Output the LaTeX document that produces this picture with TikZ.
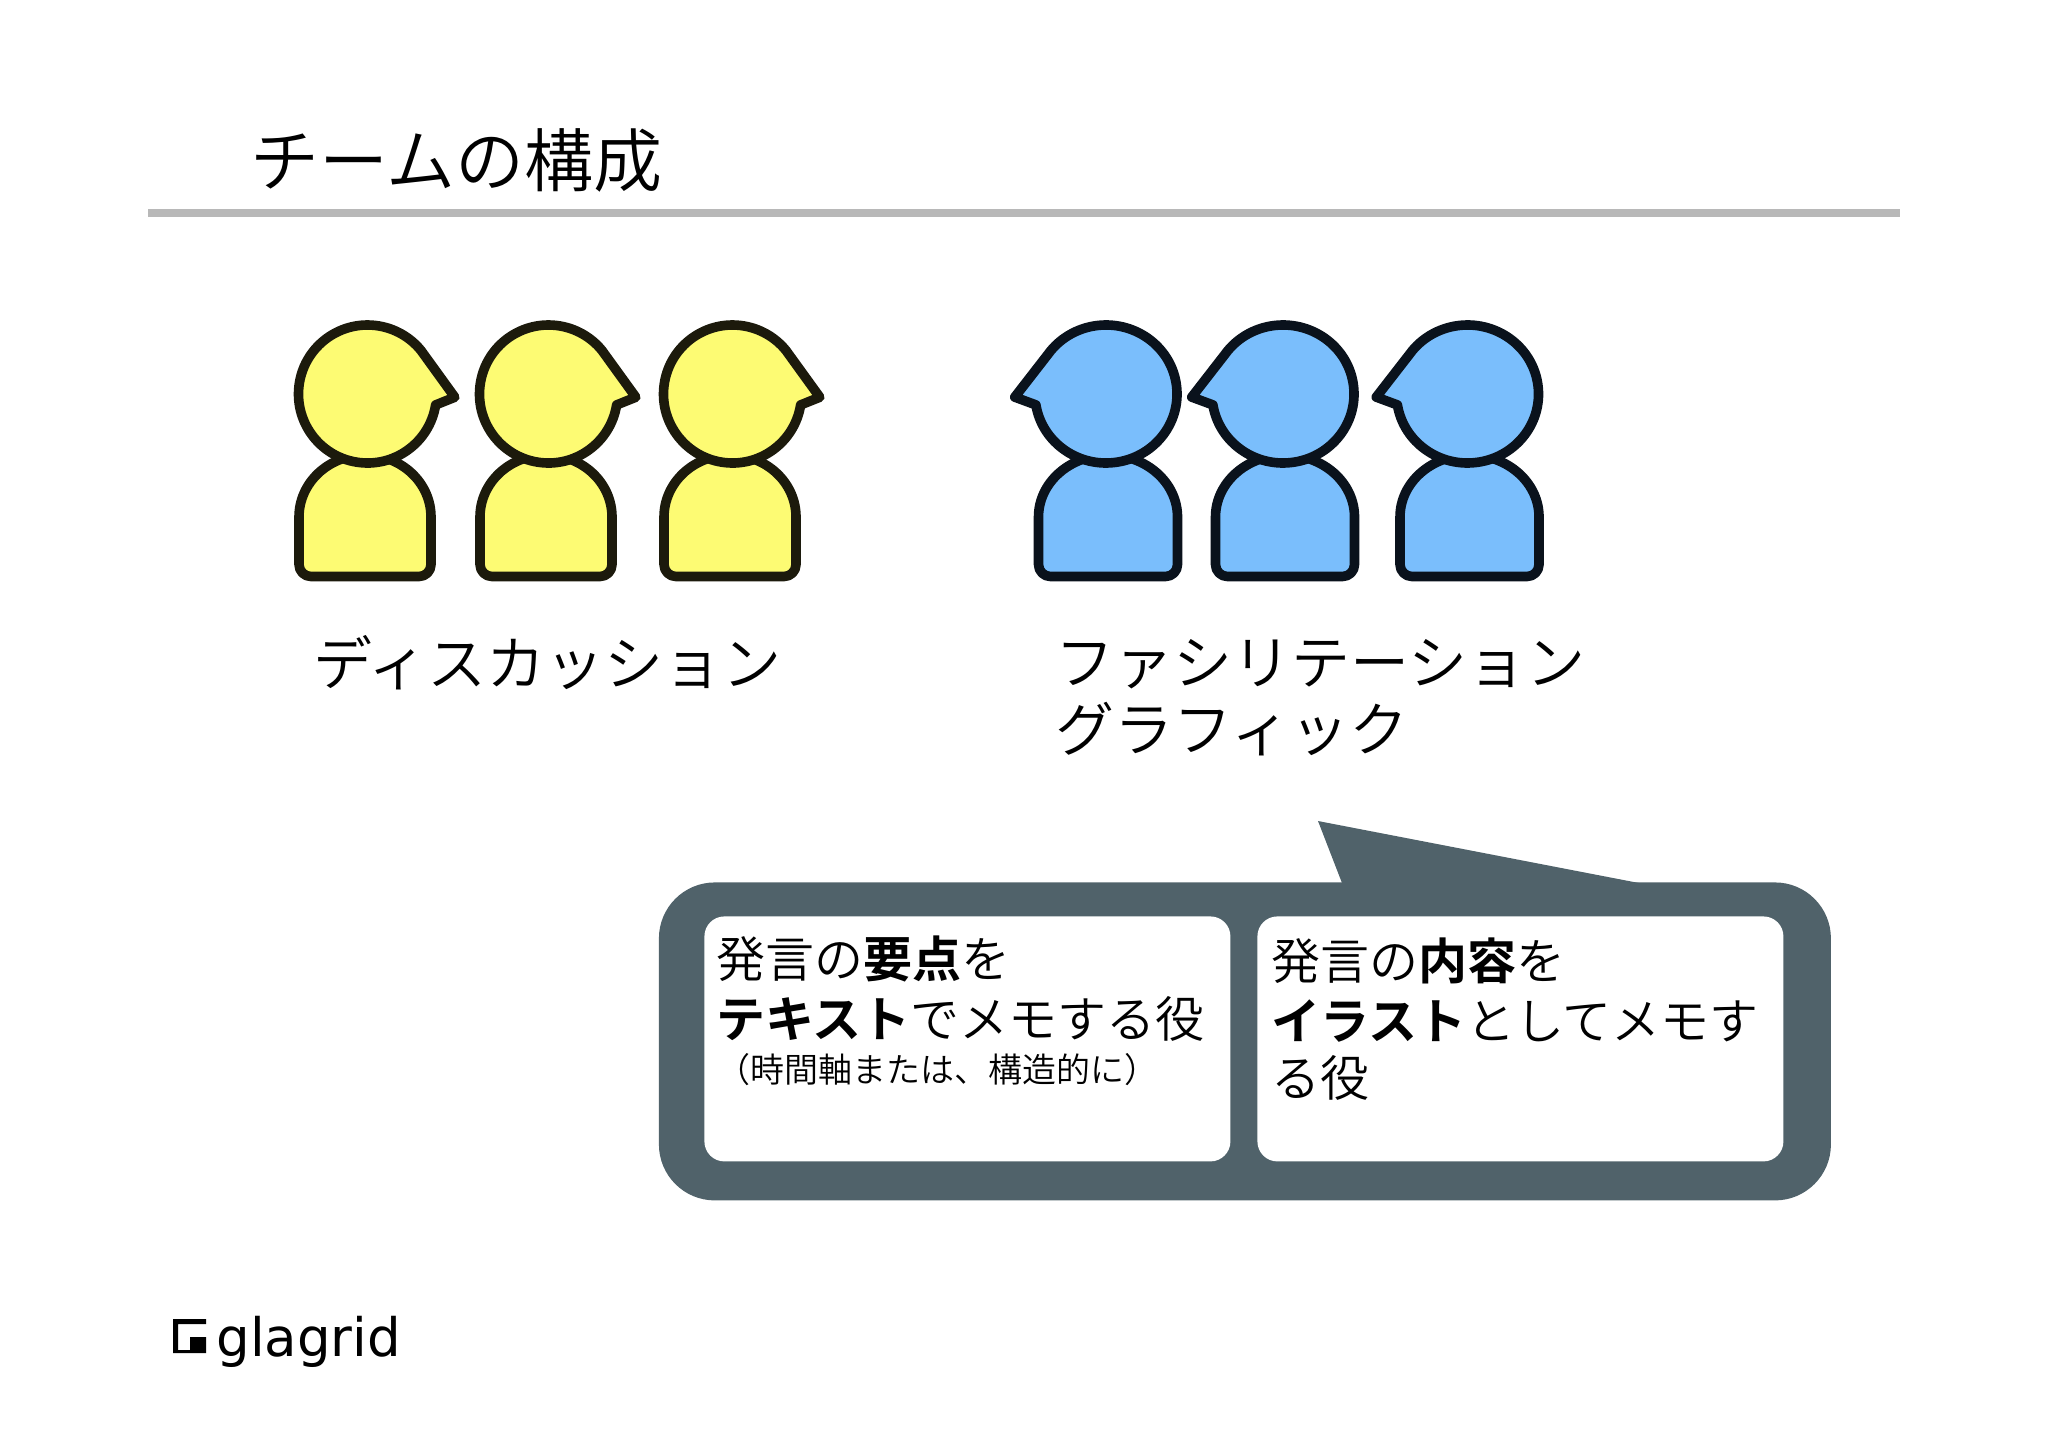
\documentclass[tikz,border=0pt]{standalone}
\usepackage{fontspec}
\setmainfont{Noto Sans CJK JP DemiLight}[BoldFont=Noto Sans CJK JP Bold]
\newfontfamily\logofont{DejaVu Sans}
\usepackage{xcolor}
\definecolor{headYellow}{HTML}{FDFB73}
\definecolor{lineYellow}{HTML}{1C1A0C}
\definecolor{headBlue}{HTML}{7ABEFC}
\definecolor{lineBlue}{HTML}{0A121C}
\definecolor{bubbleGray}{HTML}{50626A}
\definecolor{ruleGray}{HTML}{B8B8B8}
\tikzset{
	figure/.style={line width=4.8pt, line join=round},
	titletext/.style={anchor=west, inner sep=0pt, font=\fontsize{34.5}{40}\selectfont},
	grouptext/.style={anchor=north west, inner sep=0pt, align=left, font=\fontsize{29.5}{33.5}\selectfont},
	memotext/.style={anchor=north west, inner sep=0pt, align=left, font=\fontsize{24.5}{29.25}\selectfont},
	panel/.style={anchor=north west, fill=white, rounded corners=10pt, inner sep=0pt, minimum width=263pt, minimum height=122.5pt},
}
\newcommand{\personbody}[2]{
	\filldraw (#1-#2,517) arc[start angle=180, end angle=360, x radius=#2, y radius=62]
		-- (#1+#2,564.5) arc[start angle=0, end angle=90, radius=12]
		-- (#1-#2+12,576.5) arc[start angle=90, end angle=180, radius=12] -- cycle;
}

\begin{document}
\begin{tikzpicture}[x=0.5pt, y=0.5pt, yscale=-1]
	\useasboundingbox (0,0) rectangle (2048,1447);

	\node[titletext] (title) at (250,160) {チームの構成};
	\fill[ruleGray] (148,209) rectangle (1900,217);

	\begin{scope}[figure, draw=lineYellow, fill=headYellow]
		\foreach \x in {365,546,730} {
			\personbody{\x}{66}
			\filldraw (\x+2.5,394) ++(9.1:69) arc[start angle=9.1, end angle=320.6, radius=69]
				-- ++(34,47) -- cycle;
		}
	\end{scope}

	\begin{scope}[figure, draw=lineBlue, fill=headBlue]
		\foreach \x in {1108,1285,1469.5} {
			\personbody{\x}{69.5}
			\filldraw (\x-72.1,404.9) arc[start angle=170.9, end angle=-140.6, x radius=71, y radius=69]
				-- ++(-36.4,46.9) -- cycle;
		}
	\end{scope}

	\node[grouptext] (discussion) at (313,635) {ディスカッション};
	\node[grouptext] (graphic) at (1055,639) {ファシリテーション\\グラフィック};

	\node[anchor=north west, fill=bubbleGray, rounded corners=28pt, inner sep=0pt, minimum width=586pt, minimum height=159pt] (bubble) at (658.5,882) {};
	\fill[bubbleGray] (1342,883) -- (1318,821) -- (1639,883) -- cycle;

	\node[panel] (pointPanel) at (704,916) {};
	\node[panel] (contentPanel) at (1257,916) {};

	\node[memotext] (pointText) at (716,935) {発言の\textbf{要点}を\\[1pt]\textbf{テキスト}でメモする役\\[-7pt]{\fontsize{17}{22}\selectfont （時間軸または、構造的に）}};
	\node[memotext] (contentText) at (1271,937) {発言の\textbf{内容}を\\[1pt]\textbf{イラスト}としてメモす\\[-1pt]る役};

	\fill[black] (173,1319) -- (206,1319) -- (206,1324) -- (178,1324) -- (178,1350) -- (190,1350)
		-- (190,1337) -- (206,1337) -- (206,1353) -- (173,1353) -- cycle;
	\node[anchor=base west, inner sep=0pt, font=\logofont\fontsize{26.5}{30}\selectfont] (logo) at (216,1356) {glagrid};
\end{tikzpicture}
\end{document}
